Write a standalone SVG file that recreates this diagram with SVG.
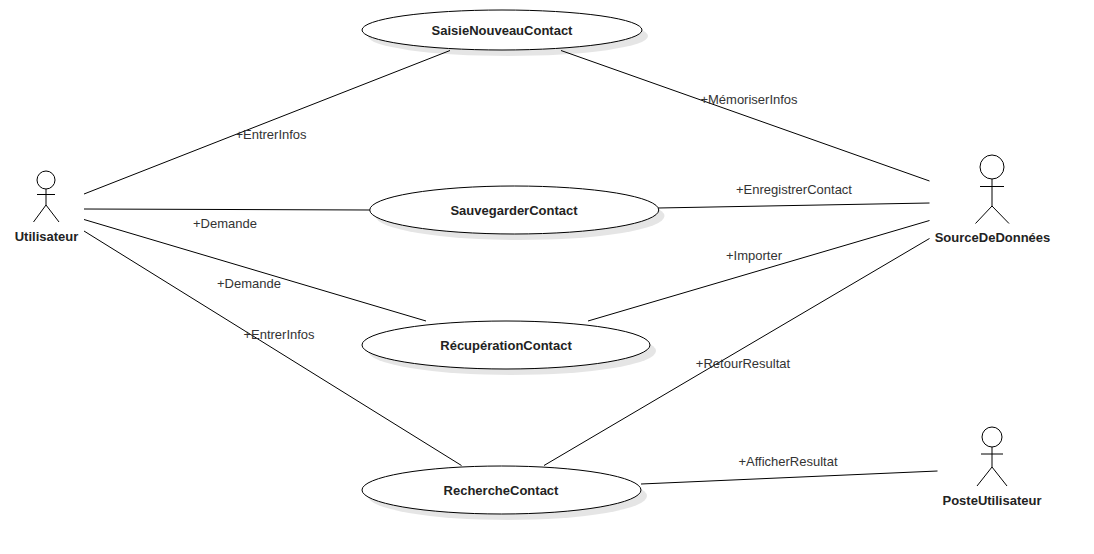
<svg xmlns="http://www.w3.org/2000/svg" width="1094" height="554" viewBox="0 0 1094 554">
<style>
text{font-family:"Liberation Sans",Arial,sans-serif;font-size:13px;fill:#333}
.t{font-weight:bold;text-anchor:middle;fill:#222}
.l{text-anchor:middle}
.e{fill:#fff;stroke:#000;stroke-width:1}
.s{fill:#000;opacity:.1}
.a{fill:#fff;stroke:#000;stroke-width:1}
.a path{fill:none}
#connectors line{stroke:#000;stroke-width:1}
</style>
<rect width="1094" height="554" fill="#fff"/>
<g id="connectors">
<line x1="84" y1="194" x2="450" y2="50.500"/>
<line x1="84" y1="209" x2="370" y2="210"/>
<line x1="84" y1="219.500" x2="426" y2="321"/>
<line x1="84" y1="231" x2="461.500" y2="465.500"/>
<line x1="561" y1="50.500" x2="929.500" y2="181"/>
<line x1="658" y1="208" x2="929.500" y2="203"/>
<line x1="588" y1="321" x2="929.500" y2="220.500"/>
<line x1="544" y1="465.500" x2="929.500" y2="238.500"/>
<line x1="641" y1="484" x2="937.500" y2="471"/>
</g>
<g id="labels">
<text class="l" x="271" y="139">+EntrerInfos</text>
<text class="l" x="749" y="104">+MémoriserInfos</text>
<text class="l" x="794" y="194">+EnregistrerContact</text>
<text class="l" x="225" y="228">+Demande</text>
<text class="l" x="249" y="288">+Demande</text>
<text class="l" x="754" y="260">+Importer</text>
<text class="l" x="279" y="339">+EntrerInfos</text>
<text class="l" x="743" y="368">+RetourResultat</text>
<text class="l" x="788" y="466">+AfficherResultat</text>
</g>
<g id="SaisieNouveauContact">
<ellipse class="s" cx="508" cy="36" rx="140" ry="20"/>
<ellipse class="e" cx="502" cy="30" rx="140" ry="20"/>
<text class="t" x="502" y="35">SaisieNouveauContact</text>
</g>
<g id="SauvegarderContact">
<ellipse class="s" cx="520" cy="216" rx="144.500" ry="24"/>
<ellipse class="e" cx="514.250" cy="210" rx="144.500" ry="24"/>
<text class="t" x="514" y="215">SauvegarderContact</text>
</g>
<g id="RecuperationContact">
<ellipse class="s" cx="512" cy="351" rx="144" ry="24"/>
<ellipse class="e" cx="506" cy="345" rx="144" ry="24"/>
<text class="t" x="506" y="350">RécupérationContact</text>
</g>
<g id="RechercheContact">
<ellipse class="s" cx="507.500" cy="496" rx="139.500" ry="24"/>
<ellipse class="e" cx="501.500" cy="490" rx="139.500" ry="24"/>
<text class="t" x="501" y="495">RechercheContact</text>
</g>
<g id="Utilisateur">
<g class="a"><circle cx="46" cy="180" r="9"/><path d="M46 189V205M37 194.500H55M46 205L33.500 222M46 205L59 222"/></g>
<text class="t" x="46.500" y="241">Utilisateur</text>
</g>
<g id="SourceDeDonnees">
<g class="a"><circle cx="992" cy="167" r="12"/><path d="M992 179V206M980 186.500H1004M992 206L975.500 223.500M992 206L1009 223.500"/></g>
<text class="t" x="992.500" y="242">SourceDeDonnées</text>
</g>
<g id="PosteUtilisateur">
<g class="a"><circle cx="992" cy="437" r="10"/><path d="M992 447V467M981 454H1003M992 467L977 486M992 467L1007 486"/></g>
<text class="t" x="992" y="505">PosteUtilisateur</text>
</g>
</svg>
